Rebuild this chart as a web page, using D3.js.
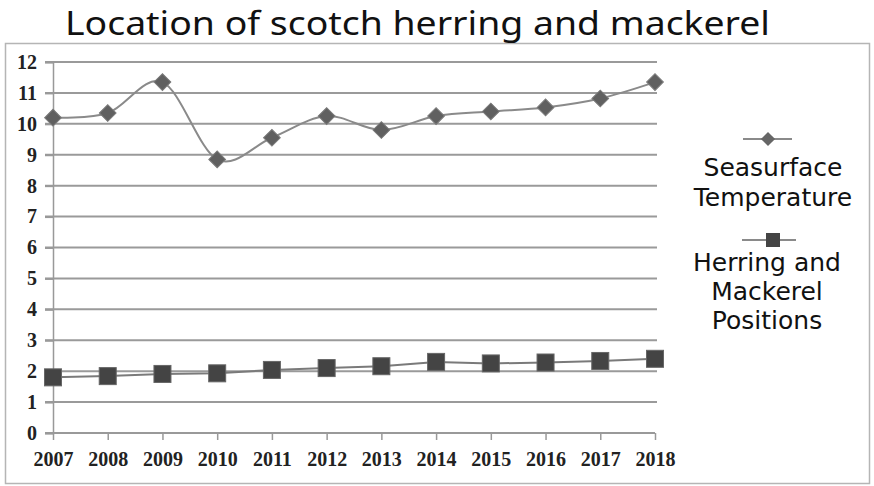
<!DOCTYPE html>
<html>
<head>
<meta charset="utf-8">
<script src="https://cdn.jsdelivr.net/npm/d3@7"></script>
<style>
  html, body { margin: 0; padding: 0; background: #fff; }
  svg { display: block; }
</style>
</head>
<body>
<svg id="chart" width="874" height="486"></svg>
<script>
const years = [2007, 2008, 2009, 2010, 2011, 2012, 2013, 2014, 2015, 2016, 2017, 2018];
const seaTemp = [10.2, 10.35, 11.35, 8.85, 9.55, 10.25, 9.8, 10.25, 10.4, 10.53, 10.82, 11.35];
const herring = [1.8, 1.84, 1.91, 1.93, 2.04, 2.1, 2.16, 2.3, 2.25, 2.28, 2.33, 2.4];
const yTicks = [0, 1, 2, 3, 4, 5, 6, 7, 8, 9, 10, 11, 12];
const titleText = "Location of scotch herring and mackerel";
const legendSea = ["Seasurface", "Temperature"];
const legendHerring = ["Herring and", "Mackerel", "Positions"];

const svg = d3.select("#chart");

// outer frame
svg.append("rect").attr("x", 5.5).attr("y", 43.5).attr("width", 864).attr("height", 440)
  .attr("fill", "none").attr("stroke", "#b5b5b5").attr("stroke-width", 1.5);

// title
svg.append("text").attr("x", 65).attr("y", 35)
  .attr("font-family", "'Noto Sans', 'Open Sans', sans-serif").attr("font-size", 33)
  .attr("fill", "#111").attr("textLength", 705).attr("lengthAdjust", "spacingAndGlyphs")
  .text(titleText);

const x = d3.scalePoint().domain(years).range([53, 655]);
const y = d3.scaleLinear().domain([0, 12]).range([433, 62]);

// gridlines
svg.append("g").selectAll("line").data(yTicks.filter(d => d > 0)).join("line")
  .attr("x1", 45).attr("x2", 657)
  .attr("y1", d => y(d)).attr("y2", d => y(d))
  .attr("stroke", "#9a9a9a").attr("stroke-width", 2);

// y axis
const yAxis = svg.append("g").attr("transform", "translate(53,0)")
  .call(d3.axisLeft(y).tickValues(yTicks).tickSize(8).tickPadding(8).tickFormat(d3.format("d")));
yAxis.select(".domain").attr("stroke", "#999").attr("stroke-width", 1.5);
yAxis.selectAll(".tick line").attr("stroke", "#999").attr("stroke-width", 2);
yAxis.selectAll(".tick text").attr("font-family", "'Liberation Serif', 'Times New Roman', serif")
  .attr("font-size", 20).attr("font-weight", "bold").attr("fill", "#222");

// x axis
const xAxis = svg.append("g").attr("transform", "translate(0,433)")
  .call(d3.axisBottom(x).tickSize(7).tickSizeOuter(0).tickPadding(12).tickFormat(d3.format("d")));
xAxis.select(".domain").attr("stroke", "#999").attr("stroke-width", 2)
  .attr("d", "M45,0H655");
xAxis.selectAll(".tick line").attr("stroke", "#999").attr("stroke-width", 1.5);
xAxis.selectAll(".tick text").attr("font-family", "'Liberation Serif', 'Times New Roman', serif")
  .attr("font-size", 20).attr("font-weight", "bold").attr("fill", "#222");

// sea temperature line (smoothed)
const seaData = years.map((yr, i) => ({ yr, v: seaTemp[i] }));
const herData = years.map((yr, i) => ({ yr, v: herring[i] }));

svg.append("path").datum(seaData)
  .attr("d", d3.line().x(d => x(d.yr)).y(d => y(d.v)).curve(d3.curveCardinal.tension(0)))
  .attr("fill", "none").attr("stroke", "#8a8a8a").attr("stroke-width", 2);

svg.append("path").datum(herData)
  .attr("d", d3.line().x(d => x(d.yr)).y(d => y(d.v)))
  .attr("fill", "none").attr("stroke", "#7a7a7a").attr("stroke-width", 2);

// markers
const diamond = d3.symbol().type(d3.symbolSquare).size(140);
svg.append("g").selectAll("path").data(seaData).join("path")
  .attr("d", diamond)
  .attr("transform", d => `translate(${x(d.yr)},${y(d.v)}) rotate(45)`)
  .attr("fill", "#606060").attr("stroke", "#7a7a7a").attr("stroke-width", 1);

svg.append("g").selectAll("rect").data(herData).join("rect")
  .attr("x", d => x(d.yr) - 8.5).attr("y", d => y(d.v) - 8.5)
  .attr("width", 17).attr("height", 17)
  .attr("fill", "#444").attr("stroke", "#666").attr("stroke-width", 1);

// legend
const lg = svg.append("g");
lg.append("line").attr("x1", 743).attr("x2", 792).attr("y1", 139).attr("y2", 139)
  .attr("stroke", "#8a8a8a").attr("stroke-width", 2);
lg.append("path").attr("d", d3.symbol().type(d3.symbolSquare).size(100))
  .attr("transform", "translate(768,139) rotate(45)").attr("fill", "#666");
lg.append("text").attr("font-family", "'DejaVu Sans', sans-serif")
  .attr("font-size", 25).attr("fill", "#111").attr("text-anchor", "middle")
  .selectAll("tspan").data(legendSea).join("tspan")
  .attr("x", 773).attr("y", (d, i) => 176 + i * 30).text(d => d);

lg.append("line").attr("x1", 742).attr("x2", 796).attr("y1", 240).attr("y2", 240)
  .attr("stroke", "#8a8a8a").attr("stroke-width", 2);
lg.append("rect").attr("x", 766).attr("y", 233).attr("width", 14).attr("height", 14).attr("fill", "#444");
lg.append("text").attr("font-family", "'DejaVu Sans', sans-serif")
  .attr("font-size", 25).attr("fill", "#111").attr("text-anchor", "middle")
  .selectAll("tspan").data(legendHerring).join("tspan")
  .attr("x", 767).attr("y", (d, i) => 271 + i * 29).text(d => d);
</script>
</body>
</html>
